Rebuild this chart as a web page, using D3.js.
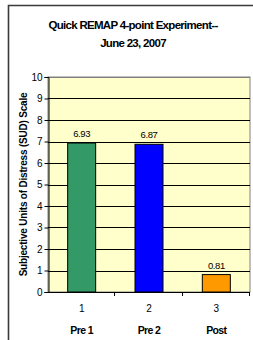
<!DOCTYPE html>
<html>
<head>
<meta charset="utf-8">
<script src="https://cdn.jsdelivr.net/npm/d3@7"></script>
<style>
  body { margin: 0; background: #fff; }
  svg { display: block; font-family: "Liberation Sans", Arial, sans-serif; }
</style>
</head>
<body>
<svg id="chart" width="253" height="340"></svg>
<script>
var categories = ['1', '2', '3'];
var phaseNames = ['Pre 1', 'Pre 2', 'Post'];
var sudValues = [6.93, 6.87, 0.81];
var barColors = ['#339966', '#0000ff', '#ff9900'];
var yTicks = [0, 1, 2, 3, 4, 5, 6, 7, 8, 9, 10];

var svg = d3.select('#chart');

// outer frame (left + top edges visible)
svg.append('path')
  .attr('d', 'M8.5,340 L8.5,5.5 L253,5.5')
  .attr('fill', 'none')
  .attr('stroke', '#3a3a3a')
  .attr('stroke-width', 1.6);

var plot = { left: 48, right: 250, top: 77, bottom: 292 };

var x = d3.scaleBand()
  .domain(categories)
  .range([plot.left, plot.right])
  .paddingInner(0)
  .paddingOuter(0);

var y = d3.scaleLinear()
  .domain([0, 10])
  .range([plot.bottom, plot.top]);

// plot background
svg.append('rect')
  .attr('x', plot.left).attr('y', plot.top)
  .attr('width', plot.right - plot.left)
  .attr('height', plot.bottom - plot.top)
  .attr('fill', '#ffffcc')
  .attr('stroke', '#808080')
  .attr('stroke-width', 1);

// gridlines
svg.append('g')
  .selectAll('line')
  .data(yTicks.slice(1))
  .join('line')
  .attr('x1', plot.left).attr('x2', plot.right)
  .attr('y1', function(d) { return Math.round(y(d)) + 0.5; })
  .attr('y2', function(d) { return Math.round(y(d)) + 0.5; })
  .attr('stroke', function(d) { return d == 10 ? '#808080' : '#000'; })
  .attr('stroke-width', 1);

// bars
var barW = 28;
svg.append('g')
  .selectAll('rect')
  .data(sudValues)
  .join('rect')
  .attr('x', function(d, i) { return x(categories[i]) + x.bandwidth() / 2 - barW / 2; })
  .attr('y', function(d) { return y(d); })
  .attr('width', barW)
  .attr('height', function(d) { return y(0) - y(d); })
  .attr('fill', function(d, i) { return barColors[i]; })
  .attr('stroke', '#000')
  .attr('stroke-width', 1);

// value labels
svg.append('g')
  .selectAll('text')
  .data(sudValues)
  .join('text')
  .attr('x', function(d, i) { return x(categories[i]) + x.bandwidth() / 2; })
  .attr('y', function(d) { return y(d) - 6; })
  .attr('text-anchor', 'middle')
  .attr('font-size', 9.5)
  .attr('letter-spacing', -0.4)
  .attr('fill', '#000')
  .text(function(d) { return d.toFixed(2); });

// y axis
var yAxis = d3.axisLeft(y).tickValues(yTicks).tickSize(4).tickPadding(2);
var gy = svg.append('g')
  .attr('transform', 'translate(' + (plot.left + 0.5) + ',0)')
  .call(yAxis);
gy.select('.domain').attr('stroke', '#000');
gy.selectAll('.tick text').attr('font-size', 10).attr('fill', '#000')
  .attr('font-family', '"Liberation Sans", Arial, sans-serif');

// x axis line + boundary ticks
svg.append('line')
  .attr('x1', plot.left).attr('x2', plot.right)
  .attr('y1', plot.bottom + 0.5).attr('y2', plot.bottom + 0.5)
  .attr('stroke', '#000');
svg.append('g')
  .selectAll('line')
  .data(categories)
  .join('line')
  .attr('x1', function(d) { return Math.round(x(d) + x.bandwidth()) - 0.5; })
  .attr('x2', function(d) { return Math.round(x(d) + x.bandwidth()) - 0.5; })
  .attr('y1', plot.bottom)
  .attr('y2', plot.bottom + 4)
  .attr('stroke', '#000');

// category numbers
svg.append('g')
  .selectAll('text')
  .data(categories)
  .join('text')
  .attr('x', function(d) { return x(d) + x.bandwidth() / 2; })
  .attr('y', 312)
  .attr('text-anchor', 'middle')
  .attr('font-size', 10)
  .text(function(d) { return d; });

// phase names
svg.append('g')
  .selectAll('text')
  .data(phaseNames)
  .join('text')
  .attr('x', function(d, i) { return x(categories[i]) + x.bandwidth() / 2; })
  .attr('y', 334)
  .attr('text-anchor', 'middle')
  .attr('font-size', 10.5)
  .attr('font-weight', 'bold')
  .attr('letter-spacing', -0.6)
  .text(function(d) { return d; });

// title
var title = svg.append('text')
  .attr('text-anchor', 'middle')
  .attr('font-size', 11.5)
  .attr('font-weight', 'bold')
  .attr('letter-spacing', -0.7);
title.append('tspan').attr('x', 133).attr('y', 29).text('Quick REMAP 4-point Experiment--');
title.append('tspan').attr('x', 133).attr('y', 47).text('June 23, 2007');

// y axis title
svg.append('text')
  .attr('transform', 'translate(27,' + ((plot.top + plot.bottom) / 2) + ') rotate(-90)')
  .attr('text-anchor', 'middle')
  .attr('font-size', 10)
  .attr('font-weight', 'bold')
  .attr('letter-spacing', -0.2)
  .text('Subjective Units of Distress (SUD) Scale');
</script>
</body>
</html>
